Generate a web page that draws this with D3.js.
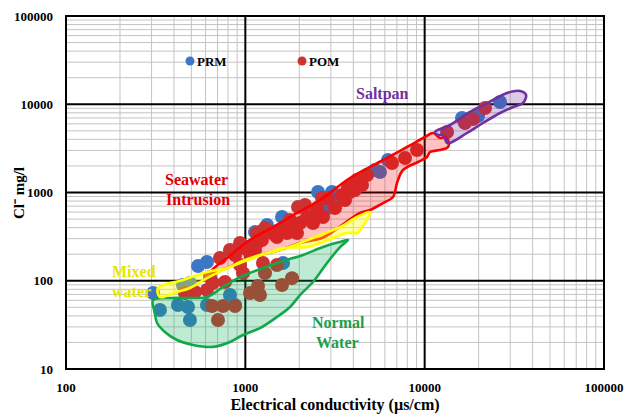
<!DOCTYPE html>
<html>
<head>
<meta charset="utf-8">
<script src="https://cdn.jsdelivr.net/npm/d3@7"></script>
<style>
    body { margin: 0; background: #fff; }
    text { font-family: "Liberation Serif", "Times New Roman", serif; font-weight: bold; }
</style>
</head>
<body>
<svg id="chart" width="627" height="414"></svg>
<script>
// Tick values of both log axes
const xTicks = [100, 1000, 10000, 100000]
const yTicks = [10, 100, 1000, 10000, 100000]

// PRM samples: [EC (µs/cm), Cl (mg/l)]
const prm = [
    [306, 72.6], [334, 46.6], [421, 53.1], [479, 50.4], [491, 35.9], [611, 53.1],
    [821, 68.9], [876, 53.1], [449, 89.5], [491, 94.3], [545, 147], [611, 163],
    [1623, 159], [1207, 357], [1321, 428], [1132, 357], [1602, 528], [2543, 1013],
    [2782, 633], [3043, 1013], [3245, 780], [5285, 1799], [5636, 1708], [6245, 2335],
    [16150, 6986], [19840, 7360], [26320, 10600], [1022, 241], [3935, 1216]
]

// POM samples: [EC (µs/cm), Cl (mg/l)]
const pom = [
    [13330, 4848], [16780, 6132], [18600, 6807], [21700, 9068],
    [9064, 3030], [7770, 2460], [6575, 2159], [4770, 1579], [4474, 1216], [3835, 1013],
    [4196, 1385], [3737, 1154], [3460, 937], [2891, 866], [2677, 866], [2510, 667],
    [2447, 556], [2207, 528], [1967, 685], [2018, 451], [1845, 428], [1665, 406],
    [1708, 348], [1463, 330], [1287, 396], [1501, 313], [934, 268], [821, 223],
    [722, 181], [1062, 206], [1775, 488], [2385, 451], [1942, 348], [2711, 528],
    [1162, 268], [1162, 348], [996, 235], [1238, 290], [1373, 357], [1561, 357],
    [2151, 721], [2294, 488], [3162, 667], [3595, 822], [4090, 1067], [1132, 223],
    [876, 196],
    [461, 72.6], [524, 74.6], [611, 78.6], [660, 94.3], [770, 96.8], [971, 122],
    [1254, 159], [1287, 122], [934, 151], [635, 110], [1501, 151],
    [652, 51.7], [751, 51.7], [876, 51.7], [704, 35.9], [1062, 72.6], [1177, 87.2],
    [1207, 68.9], [1602, 89.5], [1821, 107]
]

// Hand drawn zone outlines: [EC, Cl]
const seawaterZone = [
    [652, 132], [790, 181], [1062, 290], [1427, 406], [1942, 586], [2609, 822],
    [3835, 1460], [6166, 2460], [7971, 3278], [10044, 4256], [11130, 4723],
    [12180, 4144], [12990, 4256], [13500, 3935], [13500, 3278], [12180, 3030],
    [10710, 2876], [10306, 2526], [9182, 2216], [7572, 1799], [7012, 1281],
    [6660, 889], [5856, 760], [4957, 633], [4360, 586], [3287, 396], [2677, 305],
    [2018, 268], [1561, 223], [1207, 196], [934, 163], [790, 139], [652, 126]
]
const mixedZone = [
    [326, 82.8], [449, 102], [611, 126], [790, 139], [934, 163], [1207, 196],
    [1561, 223], [2018, 268], [2609, 330], [3373, 406], [4196, 528], [4957, 601],
    [4360, 376], [4196, 348], [3690, 348], [2711, 275], [2207, 241], [1623, 235],
    [1321, 206], [934, 159], [751, 132], [611, 107], [491, 82.8], [416, 74.6], [334, 65.4]
]
const normalZone = [
    [306, 60.5], [313, 43.1], [322, 33.2], [356, 26.3], [416, 21.3], [511, 18.7],
    [660, 17.8], [821, 20.2], [971, 24.3], [1207, 29.1], [1501, 38.8], [1775, 50.4],
    [2018, 68.9], [2385, 96.8], [2854, 159], [3373, 241], [3737, 290], [3373, 275],
    [2711, 241], [2097, 196], [1561, 163], [934, 110], [751, 85], [611, 65.4],
    [491, 63.8], [395, 63.8]
]
const saltpanZone = [
    [11420, 4848], [13850, 5820], [17890, 8172], [22270, 10330], [28790, 13410],
    [34020, 14130], [36750, 12730], [35350, 10330], [31100, 9307], [26320, 7960],
    [21150, 6132], [17220, 4723], [13850, 3638], [13330, 3638], [12660, 4483], [11870, 4483]
]

const svg = d3.select("#chart")
const margin = { top: 16, right: 23, bottom: 45, left: 66 }
const width = 627 - margin.left - margin.right
const height = 414 - margin.top - margin.bottom

const x = d3.scaleLog().domain([100, 100000]).range([margin.left, margin.left + width])
const y = d3.scaleLog().domain([10, 100000]).range([margin.top + height, margin.top])

// Soft edge for the sample dots
svg.append("defs").append("filter")
    .attr("id", "soft")
    .append("feGaussianBlur")
    .attr("stdDeviation", 0.7)

// Minor grid (2..9 in each decade)
const minorX = d3.range(2, 5).flatMap(p => d3.range(2, 10).map(m => m * 10 ** p))
const minorY = d3.range(1, 5).flatMap(p => d3.range(2, 10).map(m => m * 10 ** p))
const grid = svg.append("g").attr("id", "grid")
grid.selectAll("line.mx")
    .data(minorX)
    .enter()
    .append("line")
    .attr("x1", d => x(d)).attr("x2", d => x(d))
    .attr("y1", margin.top).attr("y2", margin.top + height)
    .attr("stroke", "#c4c4c4").attr("stroke-width", 1)
grid.selectAll("line.my")
    .data(minorY)
    .enter()
    .append("line")
    .attr("y1", d => y(d)).attr("y2", d => y(d))
    .attr("x1", margin.left).attr("x2", margin.left + width)
    .attr("stroke", "#c4c4c4").attr("stroke-width", 1)

// Major grid
grid.selectAll("line.MX")
    .data(xTicks)
    .enter()
    .append("line")
    .attr("x1", d => x(d)).attr("x2", d => x(d))
    .attr("y1", margin.top).attr("y2", margin.top + height)
    .attr("stroke", "#000").attr("stroke-width", 2)
grid.selectAll("line.MY")
    .data(yTicks)
    .enter()
    .append("line")
    .attr("y1", d => y(d)).attr("y2", d => y(d))
    .attr("x1", margin.left).attr("x2", margin.left + width)
    .attr("stroke", "#000").attr("stroke-width", 2)

// Samples
const dots = svg.append("g").attr("filter", "url(#soft)")
dots.selectAll("circle.prm")
    .data(prm)
    .enter()
    .append("circle")
    .attr("cx", d => x(d[0])).attr("cy", d => y(d[1]))
    .attr("r", 7)
    .attr("fill", "#3b77c4")
dots.selectAll("circle.pom")
    .data(pom)
    .enter()
    .append("circle")
    .attr("cx", d => x(d[0])).attr("cy", d => y(d[1]))
    .attr("r", 7)
    .attr("fill", "#cc3232")

// Zones drawn over the dots
const zoneLine = d3.line()
    .x(d => x(d[0]))
    .y(d => y(d[1]))
    .curve(d3.curveCatmullRomClosed.alpha(0.5))

const zones = [
    { pts: seawaterZone, stroke: "#ff0000", fill: "rgba(255,0,0,0.24)" },
    { pts: saltpanZone, stroke: "#7030a0", fill: "rgba(112,48,160,0.25)" },
    { pts: normalZone, stroke: "#12a84a", fill: "rgba(0,170,80,0.25)" },
    { pts: mixedZone, stroke: "#ffff00", fill: "rgba(255,255,0,0.35)" }
]
svg.append("g").selectAll("path")
    .data(zones)
    .enter()
    .append("path")
    .attr("d", d => zoneLine(d.pts))
    .attr("fill", d => d.fill)
    .attr("stroke", d => d.stroke)
    .attr("stroke-width", 2.6)
    .attr("stroke-linejoin", "round")

// Zone labels
const labels = [
    { t: "Saltpan", px: 356, py: 99, c: "#7030a0" },
    { t: "Seawater", px: 165, py: 185, c: "#e00000" },
    { t: "Intrusion", px: 166, py: 205, c: "#e00000" },
    { t: "Mixed", px: 112, py: 277, c: "#e6e600" },
    { t: "water", px: 112, py: 297, c: "#e6e600" },
    { t: "Normal", px: 312, py: 328, c: "#1e9e4a" },
    { t: "Water", px: 316, py: 348, c: "#1e9e4a" }
]
svg.append("g").selectAll("text")
    .data(labels)
    .enter()
    .append("text")
    .attr("x", d => d.px).attr("y", d => d.py)
    .attr("fill", d => d.c)
    .attr("font-size", 16)
    .text(d => d.t)

// Legend
const legend = svg.append("g")
const legendItems = [["PRM", "#3b77c4", 190], ["POM", "#cc3232", 302]]
legendItems.forEach(([name, col, lx]) => {
    legend.append("circle").attr("cx", lx).attr("cy", 61).attr("r", 4.5).attr("fill", col)
    legend.append("text").attr("x", lx + 7).attr("y", 66).attr("font-size", 13).text(name)
})

// Plot border
svg.append("rect")
    .attr("x", margin.left).attr("y", margin.top)
    .attr("width", width).attr("height", height)
    .attr("fill", "none").attr("stroke", "#000").attr("stroke-width", 2)

// Tick labels
svg.append("g").selectAll("text")
    .data(yTicks)
    .enter()
    .append("text")
    .attr("x", 53).attr("y", d => y(d) + 4.5)
    .attr("text-anchor", "end")
    .attr("font-size", 13)
    .text(d => d)
svg.append("g").selectAll("text")
    .data(xTicks)
    .enter()
    .append("text")
    .attr("x", d => x(d)).attr("y", 392)
    .attr("text-anchor", "middle")
    .attr("font-size", 13)
    .text(d => d)

// Axis titles
svg.append("text")
    .attr("x", margin.left + width / 2).attr("y", 410)
    .attr("text-anchor", "middle")
    .attr("font-size", 16)
    .text("Electrical conductivity (µs/cm)")
svg.append("text")
    .attr("transform", "translate(24,193) rotate(-90)")
    .attr("text-anchor", "middle")
    .attr("font-size", 15)
    .text("Cl⁻ mg/l")
</script>
</body>
</html>
